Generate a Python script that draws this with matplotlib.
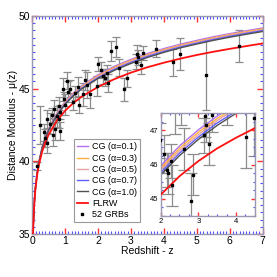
import numpy as np
import matplotlib.pyplot as plt
from matplotlib.ticker import MultipleLocator

plt.rcParams['font.family'] = ['Liberation Sans', 'DejaVu Sans']

# model curves
z_model = [0.01, 0.02, 0.03, 0.05, 0.075, 0.1, 0.15, 0.2, 0.3, 0.4, 0.5, 0.75, 1.0, 1.25,
           1.5, 2.0, 2.5, 3.0, 3.5, 4.0, 4.5, 5.0, 5.5, 6.0, 6.5, 7.0]
mu_cg01 = [33.17, 34.70, 35.59, 36.72, 37.66, 38.32, 39.28, 39.97, 40.99, 41.70, 42.26, 43.32, 44.10, 44.71,
           45.20, 45.96, 46.54, 47.01, 47.41, 47.75, 48.05, 48.31, 48.56, 48.77, 48.97, 49.16]
mu_cg03 = [33.17, 34.70, 35.59, 36.71, 37.65, 38.31, 39.27, 39.96, 40.98, 41.68, 42.24, 43.28, 44.06, 44.66,
           45.14, 45.89, 46.47, 46.94, 47.34, 47.68, 47.98, 48.24, 48.49, 48.71, 48.91, 49.10]
mu_cg05 = [33.16, 34.69, 35.58, 36.71, 37.64, 38.30, 39.25, 39.94, 40.96, 41.65, 42.21, 43.25, 44.02, 44.61,
           45.09, 45.83, 46.40, 46.87, 47.28, 47.62, 47.92, 48.18, 48.43, 48.65, 48.85, 49.04]
mu_cg07 = [33.16, 34.69, 35.58, 36.70, 37.63, 38.29, 39.24, 39.92, 40.94, 41.63, 42.19, 43.21, 43.97, 44.56,
           45.03, 45.76, 46.33, 46.80, 47.21, 47.55, 47.86, 48.12, 48.37, 48.59, 48.79, 48.98]
mu_cg10 = [33.16, 34.68, 35.57, 36.70, 37.62, 38.28, 39.23, 39.91, 40.93, 41.61, 42.16, 43.18, 43.93, 44.51,
           44.98, 45.70, 46.26, 46.73, 47.14, 47.49, 47.80, 48.06, 48.31, 48.53, 48.73, 48.92]
mu_flrw = [33.16, 34.67, 35.56, 36.68, 37.57, 38.21, 39.11, 39.76, 40.68, 41.34, 41.86, 42.82, 43.49, 44.02,
           44.45, 45.12, 45.66, 46.10, 46.47, 46.78, 47.06, 47.31, 47.53, 47.73, 47.92, 48.10]

# 52 GRBs
grb_z = [0.15, 0.23, 0.39, 0.44, 0.45, 0.55, 0.60, 0.62, 0.66, 0.69, 0.74, 0.80, 0.82, 0.84,
         0.85, 0.92, 0.97, 1.00, 1.06, 1.10, 1.15, 1.23, 1.30, 1.40, 1.43, 1.55, 1.60, 1.65,
         1.75, 1.96, 1.99, 2.10, 2.16, 2.20, 2.27, 2.29, 2.39, 2.54, 2.63, 2.80, 2.87, 3.16,
         3.18, 3.20, 3.29, 3.35, 3.76, 4.27, 4.48, 5.28, 6.28, 0.35]
grb_mu = [39.70, 42.50, 41.60, 41.25, 42.90, 42.60, 43.20, 41.85, 43.60, 42.20, 43.10, 42.90, 43.80, 42.10,
          43.40, 44.95, 44.30, 43.90, 45.55, 44.80, 45.00, 44.10, 44.70, 45.10, 43.90, 44.60, 45.60, 45.25,
          44.60, 45.20, 46.70, 46.30, 45.85, 45.75, 46.10, 45.40, 47.60, 47.85, 46.45, 44.95, 45.70, 46.85,
          47.40, 47.15, 46.60, 47.45, 47.75, 46.80, 47.35, 45.95, 47.95, 42.00]
grb_err = [0.25, 1.30, 0.60, 0.70, 0.60, 0.70, 0.50, 0.80, 0.60, 0.70, 0.70, 0.60, 0.60, 0.60,
           0.50, 0.80, 0.50, 0.70, 0.60, 0.70, 0.60, 0.60, 0.50, 0.70, 0.60, 0.80, 0.70, 0.90,
           0.90, 0.70, 0.50, 0.55, 0.50, 0.60, 0.50, 0.60, 0.70, 0.70, 0.60, 0.80, 0.60, 0.50,
           0.60, 0.50, 0.60, 0.50, 0.60, 0.90, 1.10, 2.45, 1.10, 0.60]

labels = ['CG (α=0.1)', 'CG (α=0.3)', 'CG (α=0.5)', 'CG (α=0.7)', 'CG (α=1.0)']
colors = ['#b070f0', '#ffb040', '#e8a0a0', '#6060ff', '#505050']
series = [mu_cg01, mu_cg03, mu_cg05, mu_cg07, mu_cg10]


def style_axes(ax, xminor, yminor, size, majlen, minlen):
    for s in ax.spines.values():
        s.set_color('#9898b0')
        s.set_linewidth(1.0)
    ax.xaxis.set_minor_locator(MultipleLocator(xminor))
    ax.yaxis.set_minor_locator(MultipleLocator(yminor))
    ax.tick_params(which='both', direction='in', top=True, right=True, labelsize=size, pad=1.5)
    ax.tick_params(which='major', color='#ff3030', length=majlen, width=1)
    ax.tick_params(which='minor', color='#5050ff', length=minlen, width=0.8)


def draw(ax, lw, cap):
    ax.errorbar(grb_z, grb_mu, yerr=grb_err, fmt='none', ecolor='#8c8c8c', elinewidth=0.9,
                capsize=cap, capthick=0.9, zorder=1)
    for mu, c, lab in zip(series, colors, labels):
        ax.plot(z_model, mu, color=c, lw=lw, label=lab, zorder=2)
    ax.plot(z_model, mu_flrw, color='#ff1010', lw=lw * 1.3, label='FLRW', zorder=3)
    ax.plot(grb_z, grb_mu, 's', color='black', ms=1.8, label='52 GRBs', zorder=4)


fig = plt.figure(figsize=(2.77, 2.77), dpi=100)
ax = fig.add_axes([0.1166, 0.154, 0.8314, 0.789])
draw(ax, 1.0, 3)
ax.set_xlim(0, 7)
ax.set_ylim(35, 50)
ax.set_xticks([0, 1, 2, 3, 4, 5, 6, 7])
ax.set_yticks([35, 40, 45, 50])
style_axes(ax, 0.1, 0.5, 7.5, 4, 2)
ax.set_xlabel('Redshift - z', fontsize=7.5, labelpad=0)
ax.set_ylabel('Distance Modulus - μ(z)', fontsize=7.5, labelpad=0.5)

h, l = ax.get_legend_handles_labels()
leg = ax.legend(h, l, loc='lower left', bbox_to_anchor=(0.16, 0.035), fontsize=6.5,
                frameon=True, fancybox=False, edgecolor='#808080', handlelength=1.2,
                handletextpad=0.5, borderpad=0.35, labelspacing=0.25, markerscale=1.0)
leg.get_frame().set_linewidth(0.8)

axin = fig.add_axes([0.580, 0.220, 0.340, 0.372])
draw(axin, 1.0, 4)
axin.set_xlim(2, 4.5)
axin.set_ylim(44.5, 47.5)
axin.set_xticks([2, 3, 4])
axin.set_yticks([45, 46, 47])
style_axes(axin, 0.25, 0.25, 5.5, 3, 1.5)

fig.savefig('out.png', dpi=100)
